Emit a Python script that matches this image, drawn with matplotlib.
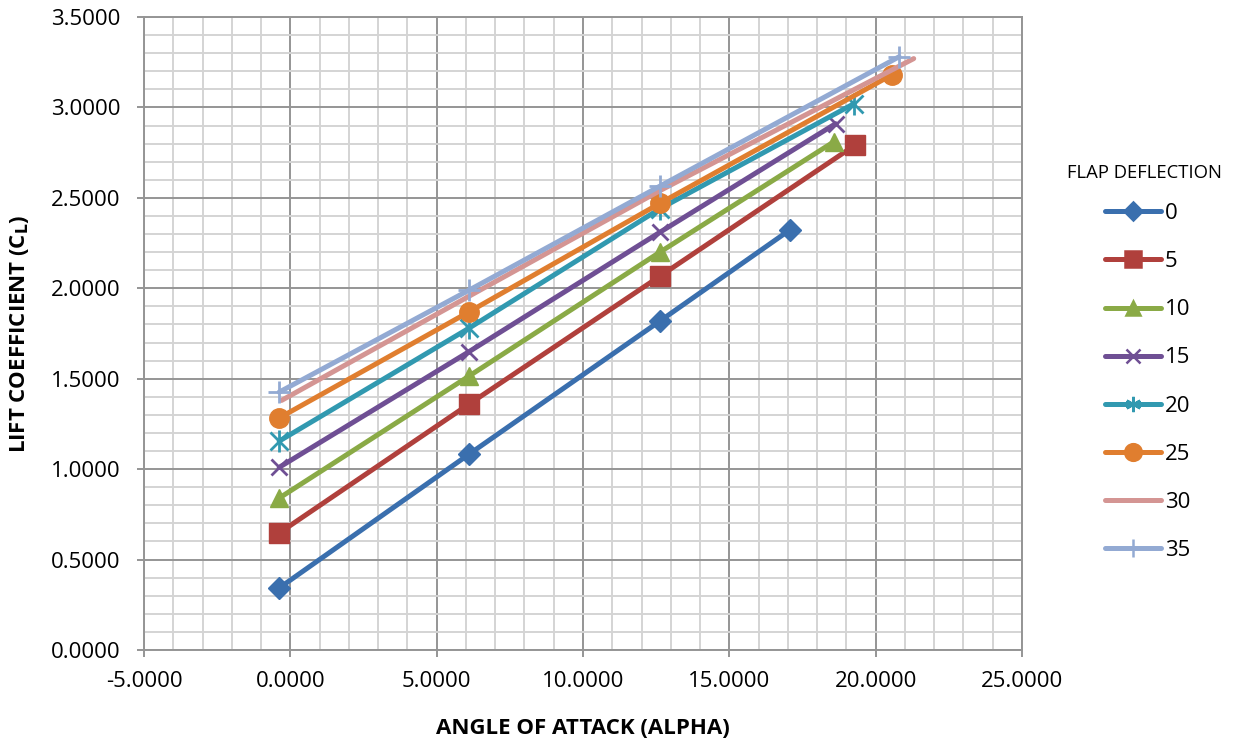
import matplotlib
matplotlib.use("Agg")
import matplotlib.pyplot as plt
from matplotlib.ticker import MultipleLocator, FormatStrFormatter
from matplotlib.lines import Line2D

plt.rcParams['font.family'] = ['Open Sans', 'DejaVu Sans']

labels = ["0", "5", "10", "15", "20", "25", "30", "35"]
alpha = {
    "0":  [-0.38, 6.11, 12.63, 17.06],
    "5":  [-0.38, 6.11, 12.63, 19.28],
    "10": [-0.38, 6.11, 12.63, 18.57],
    "15": [-0.38, 6.11, 12.63, 18.63],
    "20": [-0.38, 6.11, 12.63, 19.25],
    "25": [-0.38, 6.11, 12.63, 20.55],
    "30": [-0.30, 6.15, 12.63, 21.30],
    "35": [-0.38, 6.11, 12.63, 20.80],
}
cl = {
    "0":  [0.343, 1.083, 1.819, 2.322],
    "5":  [0.647, 1.360, 2.067, 2.790],
    "10": [0.840, 1.515, 2.200, 2.810],
    "15": [1.010, 1.650, 2.310, 2.910],
    "20": [1.155, 1.780, 2.440, 3.020],
    "25": [1.283, 1.870, 2.470, 3.180],
    "30": [1.380, 1.960, 2.540, 3.270],
    "35": [1.426, 1.990, 2.565, 3.280],
}
colors = ["#3A6FAE", "#B0403C", "#8AAA46", "#6F4F94", "#3199B0", "#E07E2F", "#D49593", "#93AAD3"]
markers = ["D", "s", "^", "x", "*", "o", None, "+"]
msizes = [11, 14, 13, 12, 13, 14, 0, 16]
leg_msizes = [9, 12, 10, 10, 11, 12, 0, 13]
LW = 3.6

fig = plt.figure(figsize=(12.33, 7.45), dpi=100)
ax = fig.add_axes([144/1233, 1-650/745, (1022-144)/1233, (650-17)/745])

for i, lab in enumerate(labels):
    m = markers[i]
    kw = dict(color=colors[i], lw=LW, solid_capstyle='round', zorder=3)
    if m is None:
        ax.plot(alpha[lab], cl[lab], **kw)
    elif m == "*":
        ax.plot(alpha[lab], cl[lab], marker="x", ms=msizes[i], mew=2.0, **kw)
        ax.plot(alpha[lab], cl[lab], marker="|", ms=msizes[i]+3, mew=2.0, ls='none',
                color=colors[i], zorder=3)
    elif m in ("x", "+"):
        ax.plot(alpha[lab], cl[lab], marker=m, ms=msizes[i], mew=2.0, **kw)
    else:
        ax.plot(alpha[lab], cl[lab], marker=m, ms=msizes[i], mec=colors[i], mfc=colors[i], **kw)

ax.set_xlim(-5, 25)
ax.set_ylim(0, 3.5)
ax.xaxis.set_major_locator(MultipleLocator(5))
ax.xaxis.set_minor_locator(MultipleLocator(1))
ax.yaxis.set_major_locator(MultipleLocator(0.5))
ax.yaxis.set_minor_locator(MultipleLocator(0.1))
ax.xaxis.set_major_formatter(FormatStrFormatter('%.4f'))
ax.yaxis.set_major_formatter(FormatStrFormatter('%.4f'))
ax.grid(which='major', color='#959595', lw=1.4, zorder=1)
ax.grid(which='minor', color='#d4d4d4', lw=1.4, zorder=0)
ax.set_axisbelow(True)
ax.tick_params(which='minor', length=0)
ax.tick_params(which='major', length=5, width=1.4, color='#959595', labelsize=16)
ax.tick_params(axis='x', which='major', pad=10)
ax.tick_params(axis='y', which='major', pad=12)
for s in ax.spines.values():
    s.set_color('#959595')
    s.set_linewidth(1.4)

ax.set_xlabel("ANGLE OF ATTACK (ALPHA)", fontsize=16, fontweight='bold', labelpad=19)
ax.set_ylabel(r"LIFT COEFFICIENT (C$_\mathbf{L}$)", fontsize=16, fontweight='bold', labelpad=14)

hl = []
for i, lab in enumerate(labels):
    m = markers[i]
    if m == "*":
        m = (6, 2, 0)
    elif m == "+":
        m = "|"
    hl.append(Line2D([0], [0], color=colors[i], lw=LW, marker=m,
                     ms=leg_msizes[i], mew=1.8,
                     mec=colors[i], mfc=colors[i], solid_capstyle='round'))
leg = fig.legend(hl, labels, loc='upper left', bbox_to_anchor=(1094/1233, 1-192/745),
                 frameon=False, fontsize=16,
                 handlelength=2.5, labelspacing=1.22, handletextpad=0.2, borderpad=0)
fig.text(1144/1233, 1-173/745, "FLAP DEFLECTION", fontsize=13.3, ha='center', va='center')

fig.savefig("out.png", dpi=100)
